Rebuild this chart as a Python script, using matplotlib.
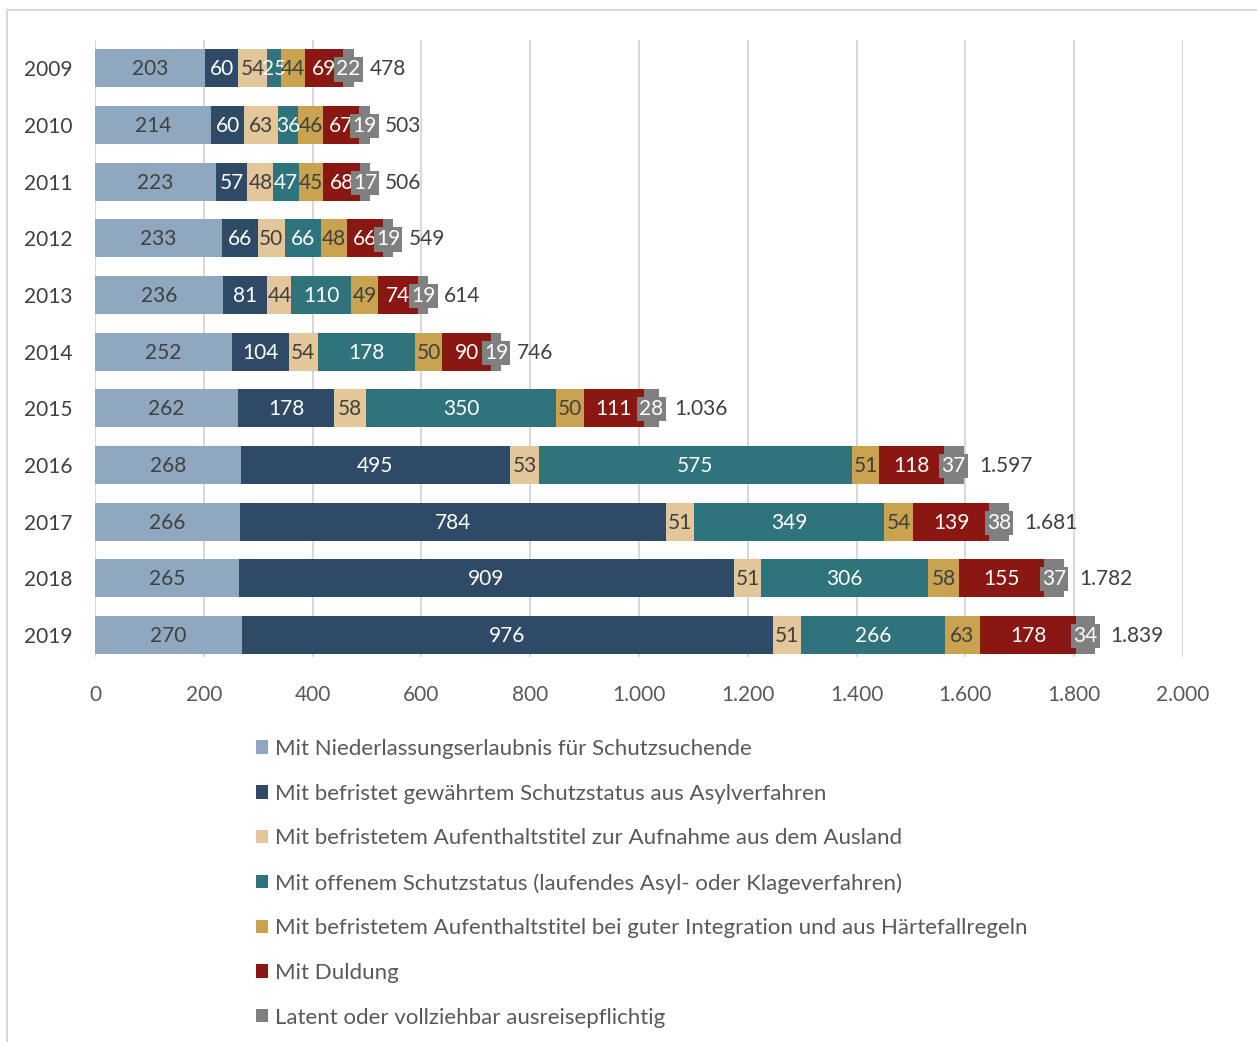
import matplotlib.pyplot as plt
from matplotlib.patches import Rectangle
from matplotlib.ticker import FuncFormatter

plt.rcParams['font.family'] = ['Lato', 'DejaVu Sans']

years = ['2009', '2010', '2011', '2012', '2013', '2014', '2015', '2016', '2017', '2018', '2019']
niederlassung = [203, 214, 223, 233, 236, 252, 262, 268, 266, 265, 270]
befristet_asyl = [60, 60, 57, 66, 81, 104, 178, 495, 784, 909, 976]
aufnahme_ausland = [54, 63, 48, 50, 44, 54, 58, 53, 51, 51, 51]
offen = [25, 36, 47, 66, 110, 178, 350, 575, 349, 306, 266]
integration = [44, 46, 45, 48, 49, 50, 50, 51, 54, 58, 63]
duldung = [69, 67, 68, 66, 74, 90, 111, 118, 139, 155, 178]
ausreise = [22, 19, 17, 19, 19, 19, 28, 37, 38, 37, 34]
totals = [478, 503, 506, 549, 614, 746, 1036, 1597, 1681, 1782, 1839]

series = [niederlassung, befristet_asyl, aufnahme_ausland, offen, integration, duldung, ausreise]
labels = ['Mit Niederlassungserlaubnis für Schutzsuchende',
          'Mit befristet gewährtem Schutzstatus aus Asylverfahren',
          'Mit befristetem Aufenthaltstitel zur Aufnahme aus dem Ausland',
          'Mit offenem Schutzstatus (laufendes Asyl- oder Klageverfahren)',
          'Mit befristetem Aufenthaltstitel bei guter Integration und aus Härtefallregeln',
          'Mit Duldung',
          'Latent oder vollziehbar ausreisepflichtig']
colors = ['#8FA8BF', '#2E4A66', '#E3C699', '#2F747C', '#C9A34F', '#8A1812', '#808080']
text_colors = ['#404040', 'white', '#404040', 'white', '#404040', 'white', 'white']

fig = plt.figure(figsize=(12.57, 10.42), dpi=100)
fig.patches.append(Rectangle((7 / 1257, -0.01), 1.02, 1 - 10 / 1042 + 0.01, transform=fig.transFigure,
                             fill=False, edgecolor='#D9D9D9', linewidth=1.5))
ax = fig.add_axes([95 / 1257, 1 - 657 / 1042, 1088 / 1257, 617 / 1042])

y = list(range(len(years)))
left = [0] * len(years)
handles = []
for s, c, tc, lab in zip(series, colors, text_colors, labels):
    bars = ax.barh(y, s, left=left, height=0.67, color=c, label=lab, zorder=3)
    handles.append(bars)
    for i, v in enumerate(s):
        kw = {}
        if c == '#808080':
            kw['bbox'] = dict(boxstyle='square,pad=0.1', facecolor=c, edgecolor='none')
        ax.text(left[i] + v / 2, i + 0.02, str(v), ha='center', va='center', color=tc, fontsize=15, zorder=4, **kw)
    left = [a + b for a, b in zip(left, s)]

for i, t in enumerate(totals):
    ax.annotate(f'{t:,}'.replace(',', '.'), (left[i], i + 0.02), xytext=(11, 0), textcoords='offset points',
                ha='left', va='center', fontsize=15, color='#404040')

ax.set_xlim(0, 2000)
ax.set_ylim(10.39, -0.5)
ax.set_xticks(range(0, 2001, 200))
ax.xaxis.set_major_formatter(FuncFormatter(lambda v, p: f'{int(v):,}'.replace(',', '.')))
ax.set_yticks(y)
ax.set_yticklabels(years)
ax.tick_params(axis='x', length=0, pad=20, labelsize=15, labelcolor='#595959')
ax.tick_params(axis='y', length=0, pad=16, labelsize=15, labelcolor='#404040')
ax.grid(axis='x', color='#D9D9D9', linewidth=1.5, zorder=0)
for sp in ax.spines.values():
    sp.set_visible(False)

fig.legend(handles=handles, labels=labels, loc='upper left', bbox_to_anchor=(256 / 1257, 1 - 739 / 1042),
           frameon=False, fontsize=16, handlelength=0.55, handleheight=0.55, handletextpad=0.3,
           labelspacing=1.11, borderpad=0, borderaxespad=0, labelcolor='#595959')

fig.savefig('out.png', dpi=100)
